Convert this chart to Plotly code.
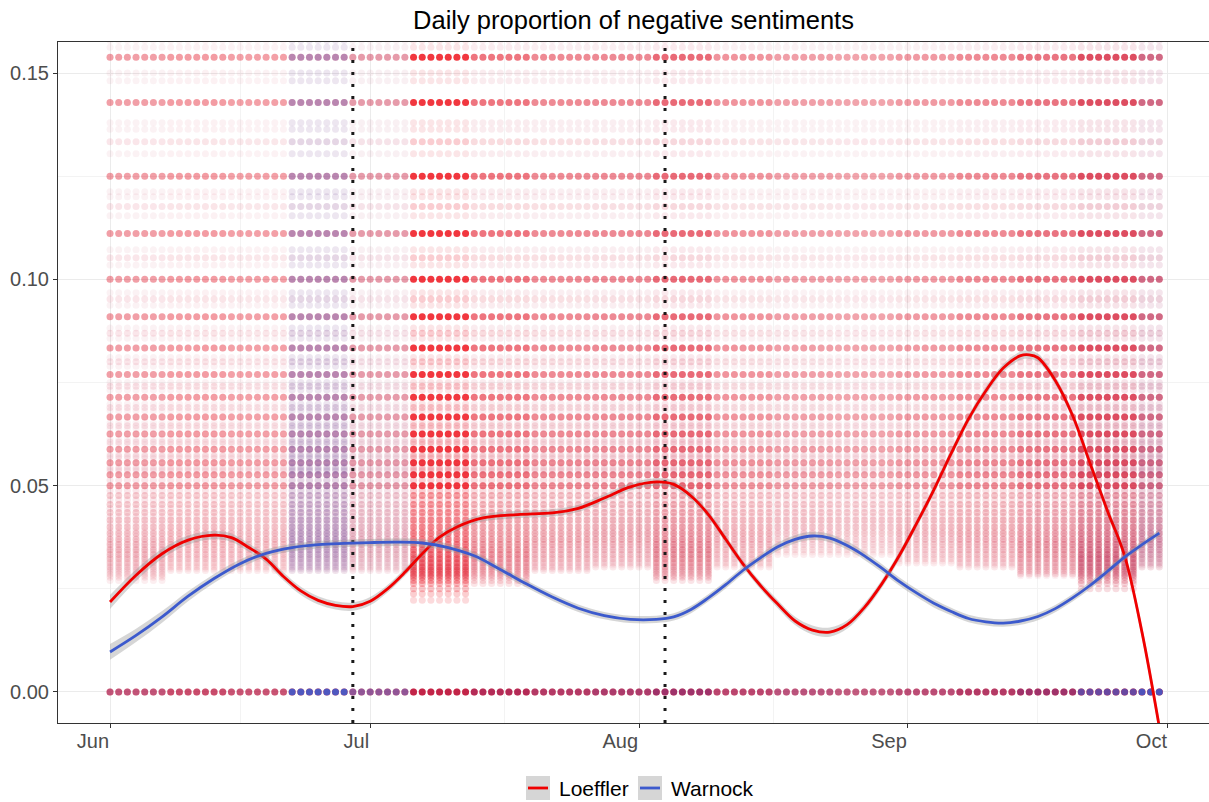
import plotly.graph_objects as go
import pandas as pd

# ---------------- data ----------------
start = pd.Timestamp("2020-06-01")
days = pd.date_range("2020-06-01", "2020-09-30", freq="D")

# discrete daily-proportion values that appear in the cloud, grouped by how often they occur
levels_zero = [0.0]
levels_primary_hi = [0.153846, 0.142857, 0.125, 0.111111, 0.1, 0.090909, 0.083333, 0.076923,
                     0.071429, 0.066667, 0.0625, 0.058824, 0.055556, 0.052632, 0.05]
levels_primary_lo = [0.047619, 0.045455, 0.043478, 0.041667, 0.04, 0.038462, 0.037037, 0.035714,
                     0.034483, 0.033333, 0.032258, 0.03125, 0.030303, 0.029412, 0.028571, 0.027778,
                     0.027027, 0.026316, 0.025, 0.02381, 0.022222, 0.020833]
levels_secondary = [0.133333, 0.117647, 0.105263, 0.095238, 0.086957, 0.08, 0.074074, 0.068966,
                    0.064516, 0.060606, 0.057143, 0.054054, 0.051282, 0.04878, 0.046512, 0.044444,
                    0.042553, 0.040816, 0.039216, 0.037736, 0.036364, 0.035088, 0.033898, 0.032787,
                    0.031746, 0.030769, 0.029851, 0.028986, 0.028169]
levels_tertiary = [0.157895, 0.15625, 0.15, 0.148148, 0.137931, 0.136364, 0.130435, 0.121212, 0.12,
                   0.115385, 0.107143, 0.103448, 0.096774, 0.09375, 0.088235, 0.085714, 0.081081,
                   0.078947, 0.075, 0.073171, 0.069767, 0.068182, 0.065217, 0.06383, 0.061224, 0.06,
                   0.057692, 0.056604, 0.054545, 0.053571]

# how dense each group of values looks (Loeffler, Warnock)
group_density = {
    "zero": (0.85, 0.35),
    "primary_hi": (0.44, 0.08),
    "primary_lo": (0.2, 0.045),
    "secondary": (0.1, 0.03),
    "tertiary": (0.05, 0.02),
}

# weekly activity (weeks starting Jun 1) and lowest proportion seen that week
week_loeffler = [0.8, 0.85, 0.8, 0.85, 0.8, 1.8, 1.2, 1.0, 1.0, 1.3, 0.9, 0.8, 0.75, 0.85, 1.0, 1.2, 1.6, 1.3]
week_warnock = [0.9, 0.8, 0.8, 4.5, 1.6, 0.9, 1.1, 1.1, 1.2, 1.4, 1.0, 1.0, 0.9, 1.0, 1.1, 1.4, 2.2, 3.0]
week_floor = [0.027, 0.029, 0.029, 0.029, 0.029, 0.022, 0.026, 0.029, 0.03, 0.027, 0.03, 0.033,
              0.033, 0.031, 0.03, 0.028, 0.025, 0.03]

# smoothed trend lines (days since Jun 1, value, standard error)
loeffler_day = [0, 3, 6, 9, 12, 14, 16, 18, 20, 22, 24, 26, 28, 30, 32, 34, 36, 38, 40, 43, 47, 51,
                54, 57, 60, 63, 65, 67, 69, 71, 73, 75, 77, 79, 81, 83, 85, 87, 89, 91, 93, 95, 97,
                99, 101, 103, 105, 106, 107, 109, 111, 113, 115, 117, 119, 121]
loeffler_fit = [0.0218, 0.0283, 0.0335, 0.0368, 0.0380, 0.0374, 0.0350, 0.0322, 0.0280, 0.0245,
                0.0222, 0.0210, 0.0207, 0.0220, 0.0250, 0.0290, 0.0335, 0.0375, 0.0400, 0.0422,
                0.0430, 0.0434, 0.0445, 0.0470, 0.0497, 0.0509, 0.0503, 0.0475, 0.0430, 0.0370,
                0.0310, 0.0258, 0.0213, 0.0172, 0.0150, 0.0145, 0.0163, 0.0205, 0.0262, 0.0330,
                0.0408, 0.0490, 0.0578, 0.0662, 0.0730, 0.0785, 0.0815, 0.0817, 0.0810, 0.0755,
                0.0670, 0.0555, 0.0440, 0.0330, 0.0145, -0.0085]
loeffler_se = [0.0017, 0.0014, 0.0012, 0.0011, 0.0010, 0.0010, 0.0010, 0.0010, 0.0010, 0.0010,
               0.0010, 0.0010, 0.0010, 0.0010, 0.0009, 0.0009, 0.0009, 0.0009, 0.0009, 0.0009,
               0.0009, 0.0009, 0.0009, 0.0009, 0.0009, 0.0009, 0.0009, 0.0009, 0.0009, 0.0009,
               0.0009, 0.0009, 0.0010, 0.0010, 0.0011, 0.0011, 0.0010, 0.0010, 0.0010, 0.0010,
               0.0010, 0.0010, 0.0010, 0.0010, 0.0010, 0.0010, 0.0010, 0.0010, 0.0010, 0.0010,
               0.0010, 0.0011, 0.0012, 0.0013, 0.0015, 0.0018]
warnock_day = [0, 3, 6, 9, 12, 15, 18, 21, 24, 27, 30, 33, 36, 39, 42, 45, 48, 51, 54, 57, 60, 63,
               65, 67, 69, 71, 73, 75, 77, 79, 81, 83, 85, 87, 89, 91, 93, 95, 97, 99, 101, 103,
               105, 107, 109, 111, 113, 115, 117, 119, 121]
warnock_fit = [0.0097, 0.0137, 0.0182, 0.0232, 0.0275, 0.0311, 0.0336, 0.0350, 0.0357, 0.0360,
               0.0362, 0.0363, 0.0361, 0.0350, 0.0330, 0.0297, 0.0262, 0.0230, 0.0203, 0.0185,
               0.0176, 0.0176, 0.0182, 0.0200, 0.0228, 0.0260, 0.0295, 0.0325, 0.0352, 0.0370,
               0.0378, 0.0373, 0.0355, 0.0330, 0.0300, 0.0268, 0.0240, 0.0215, 0.0195, 0.0178,
               0.0170, 0.0167, 0.0172, 0.0183, 0.0202, 0.0228, 0.0258, 0.0292, 0.0327, 0.0357,
               0.0385]
warnock_se = [0.0019, 0.0016, 0.0014, 0.0012, 0.0011, 0.0010, 0.0009, 0.0009, 0.0009, 0.0009,
              0.0009, 0.0009, 0.0009, 0.0009, 0.0009, 0.0009, 0.0009, 0.0009, 0.0009, 0.0009,
              0.0009, 0.0009, 0.0009, 0.0009, 0.0009, 0.0009, 0.0009, 0.0009, 0.0010, 0.0010,
              0.0010, 0.0010, 0.0010, 0.0010, 0.0010, 0.0010, 0.0010, 0.0010, 0.0009, 0.0009,
              0.0009, 0.0009, 0.0009, 0.0009, 0.0009, 0.0009, 0.0009, 0.0009, 0.0008, 0.0008,
              0.0008]

event_dates = ["2020-06-29", "2020-08-04"]

month_ticks = ["2020-06-01", "2020-07-01", "2020-08-01", "2020-09-01", "2020-10-01"]
month_labels = ["Jun", "Jul", "Aug", "Sep", "Oct"]
mid_month = ["2020-05-16 12:00", "2020-06-16", "2020-07-16 12:00", "2020-08-16 12:00", "2020-09-16"]
y_ticks = [0.0, 0.05, 0.10, 0.15]
y_labels = ["0.00", "0.05", "0.10", "0.15"]
y_minor = [0.025, 0.075, 0.125]

X_RANGE = ["2020-05-26", "2020-10-05 17:30"]
Y_RANGE = [-0.00752, 0.15752]

RED = (255, 0, 0)
BLUE = (60, 90, 205)
FONT = "Liberation Sans, Arial, Helvetica, sans-serif"

# ---------------- build point cloud ----------------
groups = [("tertiary", levels_tertiary), ("secondary", levels_secondary),
          ("primary_lo", levels_primary_lo), ("primary_hi", levels_primary_hi),
          ("zero", levels_zero)]

rx, ry, rc, bx, by, bc = [], [], [], [], [], []
for gname, levels in groups:
    base_r, base_b = group_density[gname]
    for lv in levels:
        for i, d in enumerate(days):
            w = min(i // 7, len(week_floor) - 1)
            fl = week_floor[w]
            if lv != 0.0 and lv < fl:
                continue
            taper = 1.0 if lv == 0.0 else min(1.0, 0.35 + (lv - fl) / 0.012)
            ar = min(0.95, base_r * week_loeffler[w] * taper)
            ab = min(0.9, base_b * week_warnock[w] * taper)
            rx.append(d); ry.append(lv); rc.append(f"rgba({RED[0]},{RED[1]},{RED[2]},{ar:.3f})")
            bx.append(d); by.append(lv); bc.append(f"rgba({BLUE[0]},{BLUE[1]},{BLUE[2]},{ab:.3f})")

fig = go.Figure()
fig.add_trace(go.Scatter(x=rx, y=ry, mode="markers", showlegend=False, hoverinfo="skip",
                         marker=dict(size=7, color=rc, line=dict(width=0))))
fig.add_trace(go.Scatter(x=bx, y=by, mode="markers", showlegend=False, hoverinfo="skip",
                         marker=dict(size=7, color=bc, line=dict(width=0))))

# event lines
for ed in event_dates:
    fig.add_trace(go.Scatter(x=[ed, ed], y=Y_RANGE, mode="lines", showlegend=False, hoverinfo="skip",
                             line=dict(color="#1a1a1a", width=3, dash="3px,9px")))

# smooth lines with confidence ribbons
def add_smooth(day_off, fit, se, color, name):
    xs = [start + pd.Timedelta(days=d) for d in day_off]
    lo = [v - s for v, s in zip(fit, se)]
    hi = [v + s for v, s in zip(fit, se)]
    fig.add_trace(go.Scatter(x=xs, y=lo, mode="lines", line=dict(width=0, shape="spline"),
                             showlegend=False, hoverinfo="skip"))
    fig.add_trace(go.Scatter(x=xs, y=hi, mode="lines", line=dict(width=0, shape="spline"),
                             fill="tonexty", fillcolor="rgba(153,153,153,0.4)",
                             showlegend=False, hoverinfo="skip"))
    fig.add_trace(go.Scatter(x=xs, y=fit, mode="lines", name=name, showlegend=False,
                             line=dict(color=color, width=2.8, shape="spline")))

add_smooth(loeffler_day, loeffler_fit, loeffler_se, "rgb(240,0,0)", "Loeffler")
add_smooth(warnock_day, warnock_fit, warnock_se, "rgb(60,90,205)", "Warnock")

# ---------------- layout ----------------
W, H = 1209, 802
L, R, T, B = 58, 0, 42, 79
pw, ph = W - L - R, H - T - B

def px(xp):
    return (xp - L) / pw

def py(yp):
    return (H - B - yp) / ph

shapes = []
annotations = []
legend_items = [("Loeffler", "rgb(240,0,0)", 526, 557), ("Warnock", "rgb(60,90,205)", 638, 669)]
for name, col, kx, tx in legend_items:
    shapes.append(dict(type="rect", xref="paper", yref="paper", x0=px(kx), x1=px(kx + 24),
                       y0=py(800), y1=py(776), fillcolor="rgba(153,153,153,0.4)",
                       line=dict(width=0), layer="above"))
    shapes.append(dict(type="line", xref="paper", yref="paper", x0=px(kx + 2), x1=px(kx + 22),
                       y0=py(788), y1=py(788), line=dict(color=col, width=2.8), layer="above"))
    annotations.append(dict(text=name, xref="paper", yref="paper", x=px(tx), y=py(788),
                            xanchor="left", yanchor="middle", showarrow=False,
                            font=dict(family=FONT, size=21, color="black")))

fig.update_layout(
    width=W, height=H,
    margin=dict(l=L, r=R, t=T, b=B),
    paper_bgcolor="white", plot_bgcolor="white",
    title=dict(text="Daily proportion of negative sentiments", x=0.5, xref="paper",
               y=1 - 20 / H, yanchor="middle", xanchor="center",
               font=dict(family=FONT, size=25.5, color="black")),
    shapes=shapes, annotations=annotations,
    showlegend=False,
)
fig.update_xaxes(
    type="date", range=X_RANGE,
    tickmode="array", tickvals=month_ticks, ticktext=month_labels,
    ticklabelposition="outside left",
    tickfont=dict(family=FONT, size=20, color="#4D4D4D"),
    ticks="outside", ticklen=4, tickcolor="#333333", tickwidth=1,
    showgrid=True, gridcolor="#EBEBEB", gridwidth=1,
    minor=dict(tickmode="array", tickvals=mid_month, showgrid=True, gridcolor="#F3F3F3",
               gridwidth=1, ticks=""),
    showline=True, linecolor="#333333", linewidth=1, mirror=True, zeroline=False,
)
fig.update_yaxes(
    range=Y_RANGE,
    tickmode="array", tickvals=y_ticks, ticktext=y_labels,
    tickfont=dict(family=FONT, size=20, color="#4D4D4D"),
    ticks="outside", ticklen=4, tickcolor="#333333", tickwidth=1,
    showgrid=True, gridcolor="#EBEBEB", gridwidth=1,
    minor=dict(tickmode="array", tickvals=y_minor, showgrid=True, gridcolor="#F3F3F3",
               gridwidth=1, ticks=""),
    showline=True, linecolor="#333333", linewidth=1, mirror=False, zeroline=False,
)

fig.write_html("out.html")
